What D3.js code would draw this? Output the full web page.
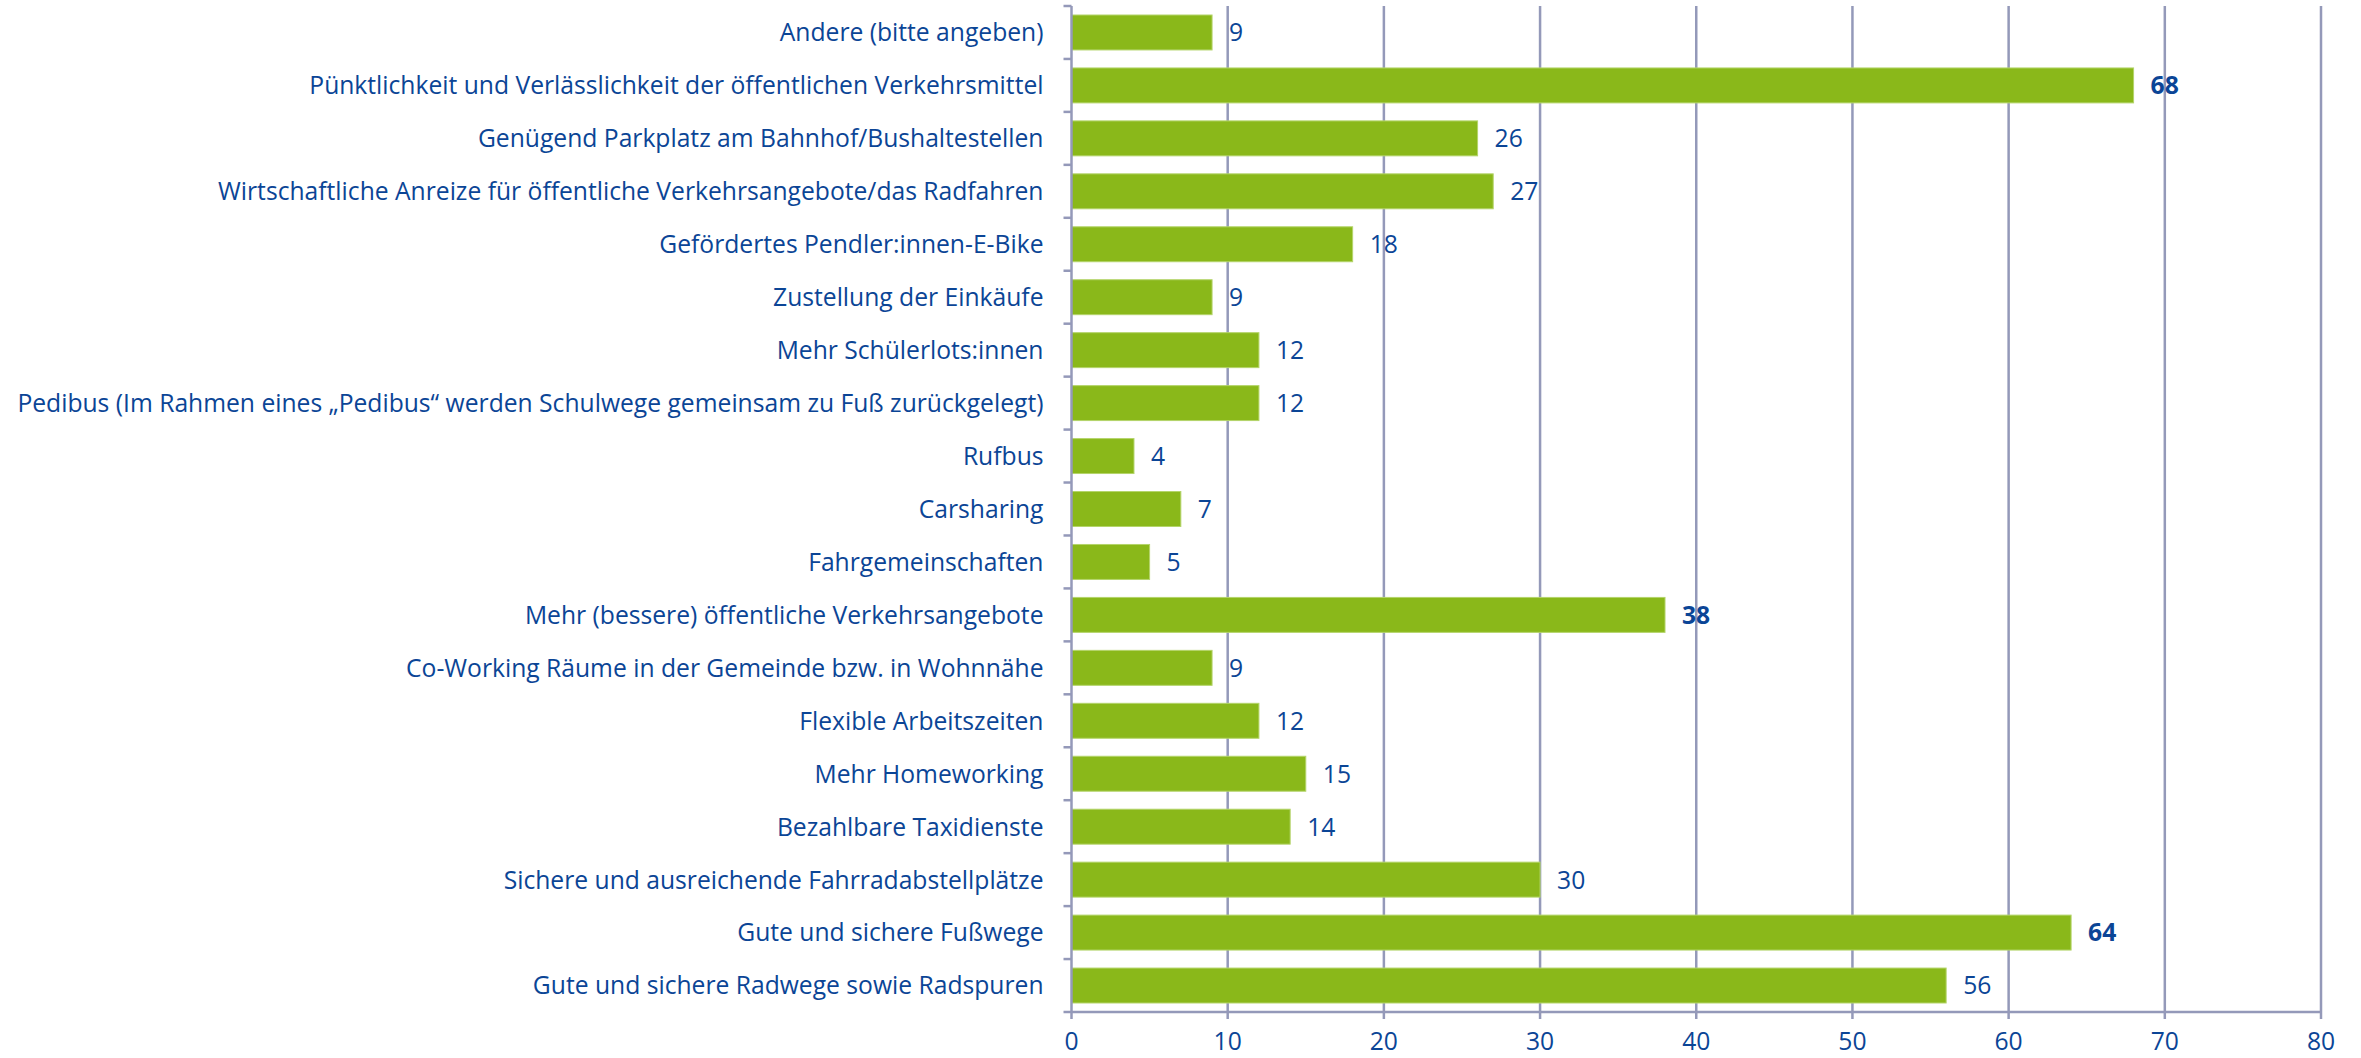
<!DOCTYPE html>
<html>
<head>
<meta charset="utf-8">
<script src="https://cdn.jsdelivr.net/npm/d3@7"></script>
<style>
  body { margin: 0; background: #fff; }
  svg { display: block; }
  text { font-family: "Open Sans", sans-serif; fill: #0b4596; }
</style>
</head>
<body>
<svg id="chart" width="2361" height="1058"></svg>
<script>
// categories top to bottom
var categories = [
    "Andere (bitte angeben)",
    "Pünktlichkeit und Verlässlichkeit der öffentlichen Verkehrsmittel",
    "Genügend Parkplatz am Bahnhof/Bushaltestellen",
    "Wirtschaftliche Anreize für öffentliche Verkehrsangebote/das Radfahren",
    "Gefördertes Pendler:innen-E-Bike",
    "Zustellung der Einkäufe",
    "Mehr Schülerlots:innen",
    "Pedibus (Im Rahmen eines „Pedibus“ werden Schulwege gemeinsam zu Fuß zurückgelegt)",
    "Rufbus",
    "Carsharing",
    "Fahrgemeinschaften",
    "Mehr (bessere) öffentliche Verkehrsangebote",
    "Co-Working Räume in der Gemeinde bzw. in Wohnnähe",
    "Flexible Arbeitszeiten",
    "Mehr Homeworking",
    "Bezahlbare Taxidienste",
    "Sichere und ausreichende Fahrradabstellplätze",
    "Gute und sichere Fußwege",
    "Gute und sichere Radwege sowie Radspuren"
];
var counts = [9, 68, 26, 27, 18, 9, 12, 12, 4, 7, 5, 38, 9, 12, 15, 14, 30, 64, 56];
var boldValues = [68, 38, 64];
var xTicks = [0, 10, 20, 30, 40, 50, 60, 70, 80];

var width = 2361, height = 1058;
var margin = { top: 6, right: 40, bottom: 46, left: 1071.5 };

var svg = d3.select("#chart");

var x = d3.scaleLinear().domain([0, 80]).range([margin.left, width - margin.right]);
var y = d3.scaleBand().domain(categories)
    .range([margin.top, height - margin.bottom])
    .paddingInner(0.34).paddingOuter(0.17);

var gridColor = "#9499b9";

// vertical gridlines
svg.append("g").selectAll("line")
    .data(xTicks.slice(1))
    .enter().append("line")
    .attr("x1", function (d) { return x(d); })
    .attr("x2", function (d) { return x(d); })
    .attr("y1", margin.top)
    .attr("y2", height - margin.bottom)
    .style("stroke", gridColor)
    .style("stroke-width", "2.5px");

// bars
svg.append("g").selectAll("rect")
    .data(counts)
    .enter().append("rect")
    .attr("x", x(0))
    .attr("y", function (d, i) { return y(categories[i]); })
    .attr("width", function (d) { return x(d) - x(0); })
    .attr("height", y.bandwidth())
    .style("fill", "#8ab81a")
    .style("stroke", "#b4d46a")
    .style("stroke-width", "1px");

// value labels
svg.append("g").selectAll("text")
    .data(counts)
    .enter().append("text")
    .attr("x", function (d) { return x(d) + 17; })
    .attr("y", function (d, i) { return y(categories[i]) + y.bandwidth() / 2; })
    .attr("dy", "0.36em")
    .style("font-size", "22px")
    .style("font-weight", function (d) { return boldValues.indexOf(d) >= 0 ? "bold" : "normal"; })
    .text(function (d) { return d; });

// y axis line with category separators
var step = y.step();
var yAxis = svg.append("g");
yAxis.append("line")
    .attr("x1", x(0)).attr("x2", x(0))
    .attr("y1", margin.top).attr("y2", height - margin.bottom)
    .style("stroke", gridColor).style("stroke-width", "2.5px");
yAxis.selectAll("line.tick")
    .data(d3.range(categories.length + 1))
    .enter().append("line")
    .attr("class", "tick")
    .attr("x1", x(0) - 8).attr("x2", x(0))
    .attr("y1", function (i) { return margin.top + i * step; })
    .attr("y2", function (i) { return margin.top + i * step; })
    .style("stroke", gridColor).style("stroke-width", "2.5px");

// category labels
var labels = svg.append("g").selectAll("text")
    .data(categories)
    .enter().append("text")
    .attr("x", x(0) - 28)
    .attr("y", function (d) { return y(d) + y.bandwidth() / 2; })
    .attr("dy", "0.36em")
    .attr("text-anchor", "end")
    .style("font-size", "22px")
    .text(function (d) { return d; });

// fit font size so the longest label spans like the original
var longest = d3.max(labels.nodes(), function (n) { return n.getComputedTextLength(); });
var fs = 22 * 1027 / longest;
svg.selectAll("text").style("font-size", fs + "px");

// x axis
var xAxis = svg.append("g").attr("transform", "translate(0," + (height - margin.bottom) + ")");
xAxis.append("line")
    .attr("x1", x(0)).attr("x2", x(80))
    .style("stroke", gridColor).style("stroke-width", "2.5px");
xAxis.selectAll("line.tick")
    .data(xTicks)
    .enter().append("line")
    .attr("x1", function (d) { return x(d); })
    .attr("x2", function (d) { return x(d); })
    .attr("y1", 0).attr("y2", 7)
    .style("stroke", gridColor).style("stroke-width", "2.5px");
xAxis.selectAll("text")
    .data(xTicks)
    .enter().append("text")
    .attr("x", function (d) { return x(d); })
    .attr("y", 29)
    .attr("dy", "0.36em")
    .attr("text-anchor", "middle")
    .style("font-size", fs + "px")
    .text(function (d) { return d; });
</script>
</body>
</html>
